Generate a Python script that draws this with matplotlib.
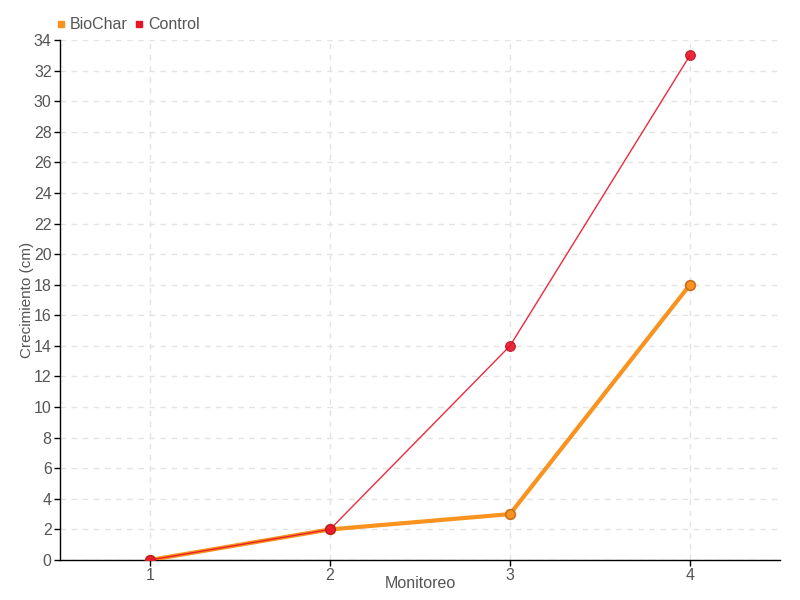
import matplotlib
matplotlib.use("Agg")
import matplotlib.pyplot as plt
from matplotlib.lines import Line2D

plt.rcParams['font.family'] = ['Liberation Sans Narrow', 'Liberation Sans', 'DejaVu Sans']

monitoreo = [1, 2, 3, 4]
biochar = [0, 2, 3, 18]
control = [0, 2, 14, 33]
yticks = list(range(0, 35, 2))

c_bio = '#f7931e'
c_ctrl = '#e8142a'
txt = '#555555'

fig = plt.figure(figsize=(8, 6), dpi=100)
ax = fig.add_axes([60/800, 40/600, 720/800, 520/600])

ax.plot(monitoreo, biochar, color=c_bio, lw=3, marker='o', ms=7,
        mfc=c_bio, mec='#c8701c', mew=1.2, zorder=3)
ax.plot(monitoreo, control, color=c_ctrl, lw=1, marker='o', ms=7,
        mfc=c_ctrl, mec='#b81020', mew=0.8, zorder=4, alpha=0.9)

ax.set_xlim(0.5, 4.5)
ax.set_ylim(0, 34)
ax.set_xticks(monitoreo)
ax.set_yticks(yticks)
ax.grid(True, color='#e3e3e3', ls=(0, (4, 4)), lw=1)
ax.set_axisbelow(True)
for s in ['top', 'right']:
    ax.spines[s].set_visible(False)
for s in ['left', 'bottom']:
    ax.spines[s].set_color('black')
    ax.spines[s].set_linewidth(1)
ax.tick_params(labelcolor=txt, labelsize=11.5, length=4, width=1, color='black', pad=2)

ax.set_xlabel('Monitoreo', color=txt, fontsize=11.5)
ax.xaxis.set_label_coords(0.5, -0.03)
ax.set_ylabel('Crecimiento (cm)', color=txt, fontsize=11)
ax.yaxis.set_label_coords(-0.036, 0.5)

handles = [Line2D([], [], ls='', marker='s', ms=4.5, color=c_bio),
           Line2D([], [], ls='', marker='s', ms=4.5, color=c_ctrl)]
fig.legend(handles, ['BioChar', 'Control'], loc='upper left',
           bbox_to_anchor=(0.053, 0.995), ncol=2, frameon=False,
           handlelength=0.5, handletextpad=0.3, columnspacing=0.5,
           fontsize=11.5, labelcolor=txt)

fig.savefig('out.png', dpi=100)
